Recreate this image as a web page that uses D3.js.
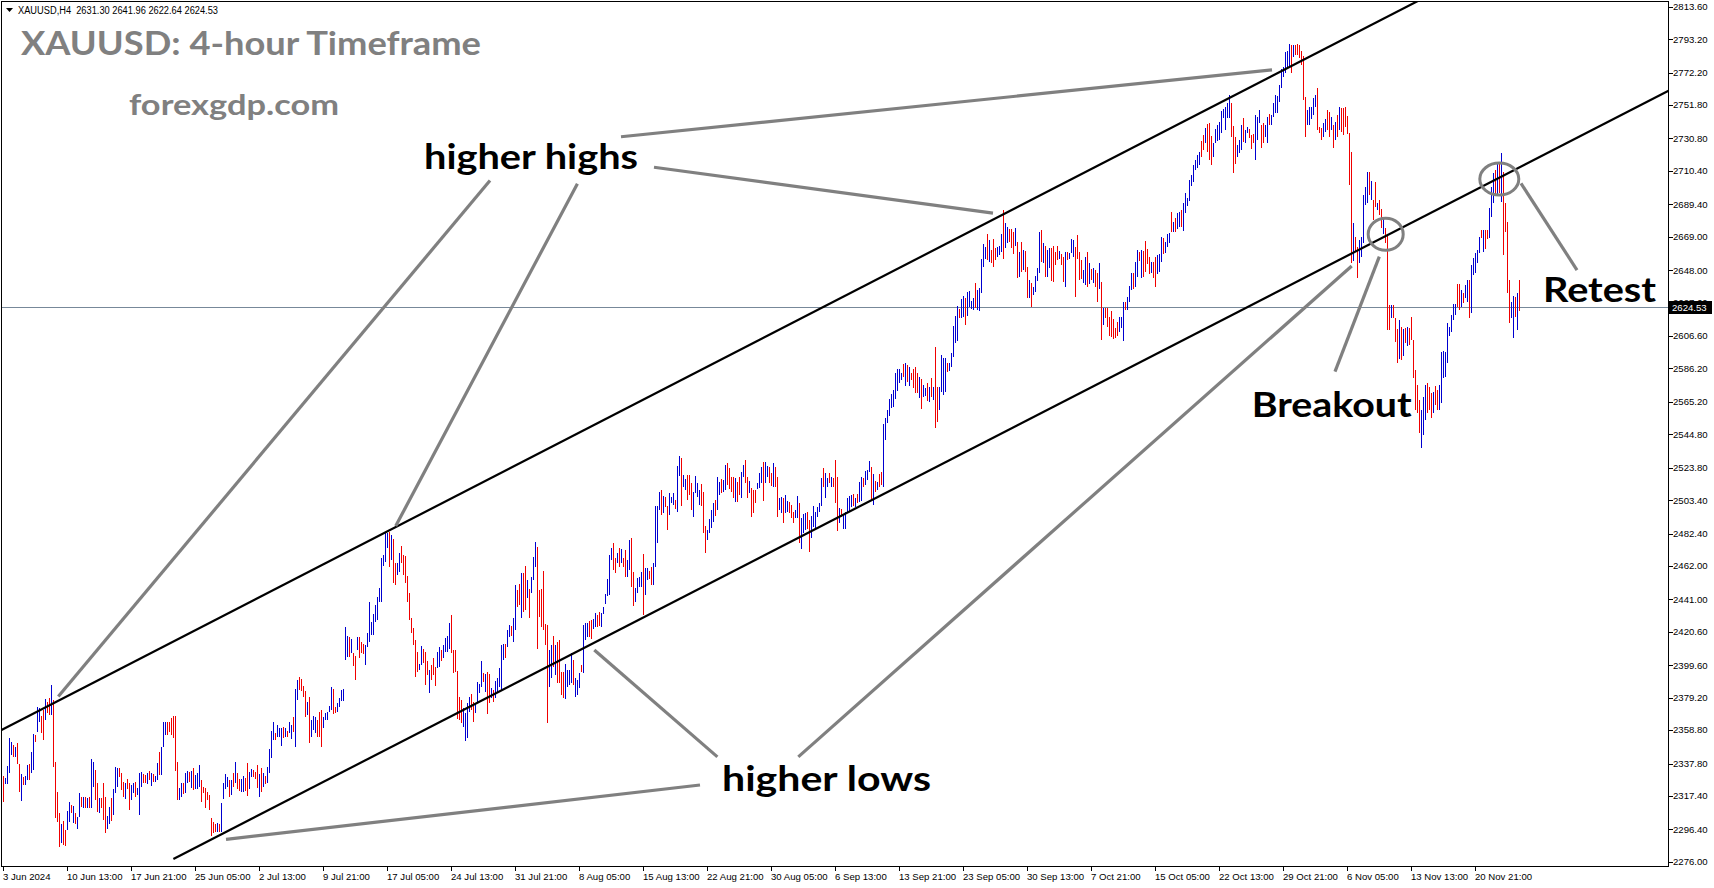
<!DOCTYPE html>
<html><head><meta charset="utf-8">
<script src="https://cdn.jsdelivr.net/npm/d3@7"></script>
<style>html,body{margin:0;padding:0;background:#fff;overflow:hidden}</style>
</head><body>
<svg id="chart" width="1714" height="888"></svg>
<script>
// ---------------- DATA ----------------
const symbolHeader = "XAUUSD,H4  2631.30 2641.96 2622.64 2624.53";
const titleText = "XAUUSD: 4-hour Timeframe";
const siteText = "forexgdp.com";
const lastPrice = 2624.53;

// bar direction: u = up (blue), d = down (red)
const dirs = [
 "duuuududdu","duuduuduud","dudduddddu","dduududuud","ududuuddud","dduuduuudd","dudduuduuu","ddududuudu","uudddddduu","duududuuud",
 "dddddddudu","uuudududdu","udduudddud","uduuuuduuu","duduuduudd","ddud",
 "uuuddduuuu","udduuuuuud","udduddduuu","uuuuuuuuud","udduuddddd","dddduudddu","ddduuduuuu","dddddduuuu","dduuuududd","uduuuuuduu",
 "duudduddud","uuuddddddu","ududddduuu","uduuuduuud","duudduuuuu","ud",
 "dududduudd","uuuuduuddu","uuududduuu","duuduudddu","uuuddduuuu","duuduudddd","udduuddudd","duuuduuddu","dduuduuddd","uuduuudduu",
 "uuuuduudud","dduduuuuud","uduuduuudu","dudduuuuuu","uuuudududd","ddu",
 "duudududdu","uuuduuuuud","uuduuuuduu","uuududdduu","uduudddudu","dudduduuuu","duduuddddu","dduduuuddd","duudududdu","dudddddddu",
 "uuduuuduud","uddddudduu","uduuududuu","duuuuuuuuu","dduddduuuu","uu",
 "uuuddduuud","uuddduuudd","uuduuuuuuu","uuududdddd","duuuuudddu","uddudududd","ddddudduuu","uududduddu","dddudddudu","dudddddduu",
 "udddudduuu","uuuuuuddud","uuduuuuudu","dduuududud","ddduudud"
].join("");

const highs = [
 2329.9,2328.5,2336.2,2353.6,2351.5,2349.4,2348.4,2350.9,2337.3,2331.2,
 2329.5,2329.9,2336.8,2337.5,2345.0,2356.3,2355.7,2373.5,2372.5,2367.6,
 2371.4,2378.1,2376.7,2379.2,2387.2,2377.7,2338.9,2320.1,2306.5,2299.7,
 2301.8,2296.0,2308.1,2313.6,2311.7,2311.1,2306.5,2304.4,2319.0,2316.9,
 2316.9,2316.5,2315.9,2316.9,2340.6,2338.9,2333.7,2325.3,2315.9,2315.9,
 2325.7,2316.9,2304.8,2310.2,2315.9,2321.5,2335.4,2334.7,2334.7,2332.0,
 2326.4,2325.7,2327.8,2325.7,2324.3,2325.7,2326.4,2322.2,2332.0,2332.7,
 2331.2,2330.6,2331.6,2333.3,2332.0,2331.2,2329.9,2337.9,2345.0,2348.4,
 2364.1,2364.1,2364.1,2364.1,2366.2,2367.6,2367.6,2338.9,2322.2,2325.7,
 2325.7,2331.6,2333.3,2332.7,2333.3,2334.7,2330.6,2331.6,2336.8,2327.4,
 2323.2,2322.2,2320.1,2318.0,2303.3,2301.2,2299.7,2300.2,2299.7,2312.7,
 2325.3,2331.2,2329.5,2327.4,2327.4,2331.6,2338.9,2332.0,2327.8,2327.8,
 2329.9,2328.9,2337.9,2332.7,2334.1,2333.7,2332.7,2336.8,2331.2,2334.7,
 2331.6,2329.9,2335.8,2346.7,2358.4,2364.1,2357.2,2362.0,2359.9,2359.9,
 2360.9,2359.9,2358.4,2364.1,2362.0,2367.2,2384.4,2390.3,2392.0,2390.7,
 2386.5,2383.6,2376.7,2379.4,
 2365.2,2367.7,2366.9,2365.2,2370.4,2371.5,2367.3,2369.4,2370.4,2374.0,
 2386.1,2384.5,2373.1,2375.7,2378.8,2384.0,2384.5,2423.9,2418.0,2417.6,
 2415.9,2407.5,2405.4,2417.6,2417.2,2414.4,2413.0,2412.3,2419.7,2439.6,
 2427.0,2431.8,2437.5,2442.7,2448.0,2466.8,2468.9,2482.6,2483.0,2483.6,
 2481.5,2478.8,2464.1,2463.7,2470.0,2474.6,2468.9,2468.3,2455.7,2444.8,
 2429.1,2423.2,2415.5,2408.1,2400.4,2411.7,2409.6,2407.7,2402.5,2396.6,
 2399.8,2403.9,2398.7,2408.1,2410.9,2409.2,2412.3,2416.5,2418.2,2426.0,
 2431.2,2409.2,2409.2,2396.2,2379.8,2377.7,2372.5,2369.8,2375.7,2379.8,
 2381.5,2376.7,2375.7,2389.3,2387.8,2402.5,2394.9,2394.1,2395.6,2394.1,
 2385.1,2384.0,2389.9,2391.4,2397.7,2412.3,2413.0,2413.0,2421.8,2424.9,
 2424.3,2429.1,2450.1,2446.9,2450.7,2457.8,2457.4,2462.0,2453.2,2447.3,
 2455.3,2467.9,2477.3,2473.7,2446.9,2447.3,2459.1,2425.3,2424.9,2409.2,
 2412.3,2418.0,2412.3,2414.4,2415.5,2395.6,2395.6,2400.4,2396.6,2396.6,
 2407.1,2402.9,2391.4,2390.3,2394.9,2399.8,2424.9,2426.0,2426.4,2427.6,
 2428.1,2428.5,2432.7,2431.2,2433.3,2432.7,2436.4,2444.4,2453.6,2468.9,
 2473.1,2476.3,
 2466.8,2470.4,2473.1,2472.5,2466.8,2472.1,2465.8,2478.4,2479.4,2458.4,
 2448.0,2454.2,2455.3,2458.4,2469.5,2460.5,2460.5,2459.1,2461.6,2463.7,
 2499.7,2499.7,2508.7,2509.8,2506.0,2505.6,2499.7,2507.7,2505.6,2507.7,
 2503.5,2524.9,2531.2,2530.1,2519.2,2516.5,2519.2,2519.2,2514.0,2508.7,
 2518.8,2514.0,2509.8,2513.6,2508.7,2487.2,2484.6,2491.3,2497.2,2501.4,
 2503.5,2518.2,2515.0,2516.5,2516.1,2525.5,2526.6,2523.4,2518.2,2518.2,
 2517.1,2515.0,2518.2,2521.3,2525.5,2528.7,2518.2,2515.7,2510.8,2509.8,
 2509.8,2514.4,2520.3,2524.5,2527.6,2527.6,2524.9,2524.5,2520.7,2526.6,
 2524.5,2518.2,2504.6,2505.6,2504.6,2506.6,2503.1,2502.5,2500.4,2496.2,
 2497.2,2506.0,2501.4,2492.0,2494.7,2495.1,2496.2,2490.9,2493.4,2499.7,
 2496.2,2499.3,2501.8,2517.1,2523.4,2520.3,2517.1,2520.7,2518.2,2517.1,
 2528.7,2518.2,2498.7,2497.8,2494.1,2496.2,2504.6,2506.2,2506.6,2507.3,
 2504.6,2507.3,2515.0,2518.2,2517.1,2521.9,2522.4,2528.2,2524.0,2519.9,
 2515.7,2515.0,2519.6,2521.3,2551.1,2554.9,2560.1,2566.8,2570.2,2572.7,
 2583.1,2585.7,2585.7,2583.6,2589.0,2589.4,2588.4,2587.3,2583.6,2585.7,
 2586.9,2583.6,2581.1,
 2579.3,2575.8,2573.7,2576.8,2574.7,2580.0,2574.7,2599.9,2574.7,2574.7,
 2594.6,2592.5,2592.5,2589.8,2589.4,2595.7,2612.9,2619.2,2625.4,2623.4,
 2629.6,2631.7,2630.3,2634.5,2634.9,2628.8,2630.3,2639.7,2635.5,2636.6,
 2654.8,2664.4,2662.8,2670.7,2667.0,2660.7,2667.4,2661.7,2662.8,2663.2,
 2670.7,2685.8,2677.4,2675.3,2673.7,2673.7,2672.2,2674.3,2665.9,2659.6,
 2665.9,2660.7,2660.2,2650.2,2641.8,2639.7,2637.6,2644.3,2649.1,2672.2,
 2673.2,2665.3,2663.2,2660.7,2661.7,2661.7,2663.2,2659.6,2663.2,2660.2,
 2658.1,2656.5,2659.6,2659.6,2659.0,2667.4,2667.0,2662.8,2670.1,2659.6,
 2654.4,2648.1,2656.5,2659.6,2652.3,2648.5,2649.1,2648.1,2646.0,2652.7,
 2640.8,2624.0,2624.0,2624.0,2618.7,2622.5,2617.1,2611.4,2615.6,2618.7,
 2618.7,2628.2,2628.2,2631.3,2638.0,2646.0,2646.0,2653.3,2660.7,2659.6,
 2660.7,2660.2,2666.5,2661.1,2656.5,2653.3,2653.3,2656.5,2657.5,2658.1,
 2669.0,2668.0,2665.9,2670.7,2671.1,2684.8,2678.5,2680.6,2684.1,2684.8,
 2685.8,2690.4,2696.3,2693.2,2704.7,2707.8,2714.1,2717.3,2720.4,2722.5,
 2729.4,2733.0,2737.2,2739.9,2740.3,2732.3,2727.7,2736.5,2739.3,2741.4,
 2748.3,2749.1,
 2750.4,2752.9,2758.1,2753.3,2738.6,2731.9,2726.7,2729.8,2739.3,2743.5,
 2736.1,2738.2,2736.5,2733.0,2733.6,2745.6,2744.5,2748.7,2739.3,2740.3,
 2739.3,2744.1,2746.2,2745.6,2752.9,2758.1,2757.5,2764.4,2774.3,2775.5,
 2785.4,2786.0,2790.2,2789.6,2789.6,2789.6,2790.2,2789.6,2786.0,2782.7,
 2757.1,2748.7,2750.4,2750.4,2756.0,2758.1,2762.3,2738.2,2737.2,2740.3,
 2742.8,2748.7,2747.6,2744.5,2739.3,2741.4,2745.6,2750.4,2749.7,2749.7,
 2750.4,2744.9,2734.0,2722.5,2677.9,2669.0,2662.8,2667.0,2668.6,2695.2,
 2700.5,2709.9,2709.9,2704.3,2692.1,2703.6,2690.0,2692.1,2686.2,2679.9,
 2674.3,2669.5,2626.1,2626.1,2626.1,2617.7,2610.8,2616.6,2612.5,2610.8,
 2611.4,2612.5,2611.4,2618.7,2604.1,2585.0,2575.8,2566.3,2560.1,2568.4,
 2575.8,2576.8,2574.7,2570.5,2571.6,2575.2,2572.6,2575.8,2596.7,2597.4,
 2596.7,2614.6,2612.5,2619.8,2626.7,2626.7,2639.3,2639.3,2635.5,2633.8,
 2638.7,2641.8,2641.8,2651.2,2655.4,2659.0,2660.7,2669.0,2673.2,2673.2,
 2673.2,2673.2,2686.9,2700.5,2708.9,2711.0,2716.2,2716.2,2721.4,2709.9,
 2690.0,2678.5,2641.8,2628.2,2631.7,2631.3,2633.4,2641.96
];

const lows = [
 2313.8,2324.9,2324.7,2332.0,2343.1,2342.1,2342.1,2337.5,2320.1,2314.4,
 2324.3,2324.3,2327.4,2327.4,2331.6,2333.7,2351.5,2357.8,2364.1,2357.2,
 2352.6,2365.1,2369.3,2368.3,2368.3,2335.8,2303.3,2301.2,2285.5,2288.0,
 2286.5,2285.9,2296.0,2301.2,2306.9,2300.6,2299.7,2296.4,2304.4,2310.2,
 2309.6,2309.6,2309.6,2309.6,2309.6,2323.2,2314.8,2307.5,2306.5,2309.6,
 2302.3,2294.3,2296.4,2299.7,2301.8,2305.4,2319.5,2323.2,2329.5,2321.1,
 2316.9,2315.3,2321.5,2308.6,2314.8,2319.0,2316.9,2318.0,2305.4,2323.2,
 2325.3,2325.3,2324.9,2327.4,2323.6,2326.4,2326.4,2327.4,2330.6,2330.6,
 2348.4,2355.7,2355.7,2357.8,2355.7,2353.6,2333.3,2314.8,2314.8,2316.5,
 2318.6,2319.0,2325.3,2326.4,2322.2,2321.1,2321.5,2321.5,2323.2,2313.8,
 2319.5,2309.6,2314.8,2308.6,2292.2,2293.9,2294.9,2294.9,2294.9,2294.9,
 2315.3,2321.5,2323.2,2316.9,2318.0,2323.2,2325.3,2321.5,2320.7,2320.1,
 2320.1,2320.7,2317.4,2321.5,2329.5,2329.5,2327.8,2322.6,2316.9,2320.1,
 2323.2,2324.9,2325.7,2331.6,2341.0,2352.6,2352.6,2354.7,2354.2,2348.8,
 2353.6,2354.7,2354.2,2356.8,2353.0,2357.8,2348.0,2377.7,2384.0,2383.6,
 2379.8,2367.2,2368.3,2351.0,
 2354.7,2358.9,2356.8,2354.7,2354.7,2348.4,2359.9,2365.2,2365.2,2370.4,
 2371.5,2368.9,2369.4,2370.4,2373.6,2377.3,2377.3,2402.9,2405.0,2405.0,
 2407.1,2399.1,2390.3,2409.2,2403.9,2407.1,2406.5,2399.8,2411.3,2414.4,
 2418.6,2418.6,2427.0,2428.1,2439.6,2439.6,2462.0,2464.7,2473.1,2461.6,
 2465.8,2451.1,2450.1,2456.4,2458.5,2463.7,2456.4,2451.1,2439.6,2428.1,
 2419.7,2412.3,2392.4,2395.6,2396.6,2399.8,2400.8,2387.2,2393.5,2382.4,
 2390.3,2393.5,2386.6,2397.7,2398.7,2402.5,2403.9,2408.1,2408.1,2409.6,
 2407.1,2394.9,2395.6,2365.6,2365.2,2363.1,2361.0,2352.2,2353.6,2370.4,
 2371.5,2364.2,2369.4,2375.7,2382.0,2386.1,2389.3,2383.0,2368.9,2375.7,
 2378.8,2376.7,2378.8,2383.0,2386.1,2384.0,2402.9,2403.9,2411.3,2417.6,
 2418.0,2414.4,2421.8,2436.4,2437.5,2429.1,2433.3,2434.3,2441.7,2429.1,
 2444.8,2453.2,2461.6,2409.6,2430.2,2423.9,2421.8,2412.3,2363.1,2386.1,
 2391.4,2398.7,2393.5,2388.7,2388.2,2380.9,2378.8,2378.2,2386.1,2387.2,
 2388.2,2387.2,2379.8,2380.9,2385.1,2395.6,2394.5,2415.5,2417.6,2417.6,
 2415.9,2422.2,2423.9,2423.9,2424.3,2423.5,2431.8,2438.1,2443.1,2443.8,
 2466.0,2459.5,
 2457.4,2463.7,2461.2,2463.7,2461.2,2455.3,2454.9,2459.5,2448.6,2436.9,
 2439.6,2444.8,2449.0,2449.0,2431.2,2443.8,2453.2,2453.6,2450.0,2450.0,
 2461.6,2476.7,2497.2,2494.1,2495.1,2499.3,2484.6,2494.1,2501.4,2500.4,
 2497.8,2496.2,2518.8,2499.7,2511.9,2509.8,2503.5,2506.6,2497.2,2493.0,
 2507.7,2505.6,2500.4,2499.7,2482.5,2470.0,2478.4,2483.0,2485.7,2489.9,
 2493.4,2497.2,2506.6,2508.1,2508.7,2509.8,2512.9,2510.2,2508.7,2504.6,
 2502.5,2502.5,2506.6,2504.6,2518.2,2514.0,2504.6,2507.7,2493.0,2495.5,
 2501.4,2510.2,2510.8,2514.0,2503.1,2514.0,2518.2,2514.4,2512.3,2511.9,
 2511.5,2493.0,2497.2,2495.1,2489.2,2495.1,2496.2,2495.5,2492.0,2488.8,
 2492.0,2492.0,2476.3,2472.5,2482.5,2484.6,2485.1,2471.0,2479.4,2486.7,
 2484.6,2493.0,2496.2,2499.7,2511.5,2504.6,2511.9,2514.0,2511.9,2511.9,
 2501.4,2484.2,2488.8,2493.0,2485.1,2485.1,2495.1,2496.2,2499.3,2499.7,
 2499.3,2501.8,2502.5,2503.1,2511.5,2512.9,2516.1,2521.3,2503.5,2500.4,
 2508.7,2509.8,2511.9,2512.9,2511.9,2541.2,2551.7,2556.3,2561.1,2562.2,
 2566.8,2572.3,2576.9,2579.0,2581.1,2575.2,2577.9,2575.2,2579.0,2573.7,
 2571.0,2570.6,2567.4,
 2560.5,2568.4,2568.9,2565.9,2565.3,2568.4,2566.3,2549.0,2552.5,2560.1,
 2571.6,2569.5,2571.6,2584.2,2584.8,2587.3,2593.6,2602.0,2603.7,2617.7,
 2617.7,2618.7,2613.5,2619.2,2624.6,2623.4,2622.9,2624.0,2622.9,2622.5,
 2633.4,2650.2,2654.8,2654.4,2653.3,2652.3,2649.8,2654.4,2656.5,2657.5,
 2659.6,2654.8,2661.7,2664.9,2665.9,2661.7,2658.1,2663.2,2642.9,2643.5,
 2647.0,2648.1,2647.0,2630.3,2630.3,2624.6,2632.4,2634.5,2641.4,2646.4,
 2653.3,2652.3,2643.9,2643.5,2649.1,2641.4,2640.8,2651.2,2654.4,2654.8,
 2651.2,2640.8,2637.6,2654.4,2654.8,2658.6,2656.5,2631.3,2654.8,2641.8,
 2642.2,2639.7,2638.7,2637.2,2639.3,2641.8,2639.7,2637.6,2628.2,2635.9,
 2604.1,2613.5,2617.7,2612.5,2606.6,2606.2,2604.5,2605.1,2606.6,2609.3,
 2611.4,2603.7,2622.9,2622.9,2628.2,2635.5,2635.9,2637.6,2643.9,2654.0,
 2642.9,2643.5,2647.0,2651.9,2645.6,2646.0,2642.9,2637.6,2645.6,2647.0,
 2653.3,2658.1,2658.6,2662.3,2664.9,2672.2,2672.2,2672.2,2673.7,2675.3,
 2675.3,2672.8,2683.7,2688.3,2691.7,2700.9,2703.6,2711.0,2712.0,2714.1,
 2719.4,2723.5,2728.2,2722.5,2717.3,2714.1,2718.9,2727.7,2729.4,2729.8,
 2734.0,2743.5,
 2736.1,2743.5,2743.5,2731.5,2708.9,2714.7,2719.4,2721.9,2723.5,2728.8,
 2727.7,2734.4,2730.9,2724.0,2727.7,2717.3,2729.8,2740.3,2724.6,2727.7,
 2731.9,2727.7,2739.3,2739.3,2744.5,2746.6,2746.6,2753.9,2762.3,2769.7,
 2771.8,2774.9,2776.4,2771.8,2782.2,2783.3,2783.3,2781.2,2777.0,2755.0,
 2731.5,2739.3,2739.3,2742.8,2745.6,2750.8,2736.1,2734.0,2729.8,2731.9,
 2735.1,2736.1,2731.5,2736.1,2724.6,2729.8,2731.9,2736.1,2735.1,2733.0,
 2738.2,2733.6,2701.5,2652.3,2653.9,2659.6,2642.9,2652.3,2656.5,2664.9,
 2689.0,2690.0,2695.2,2692.1,2679.5,2687.9,2685.8,2682.7,2674.3,2670.7,
 2664.9,2610.4,2610.4,2617.7,2617.7,2603.0,2589.4,2591.9,2591.5,2594.0,
 2602.0,2600.3,2600.9,2604.1,2580.0,2560.1,2558.0,2545.4,2535.9,2544.3,
 2553.8,2558.0,2560.1,2554.8,2558.0,2563.2,2560.1,2560.1,2564.2,2580.0,
 2581.0,2589.4,2606.6,2609.3,2616.6,2619.8,2624.6,2622.9,2625.0,2627.5,
 2630.3,2628.2,2617.7,2621.3,2645.0,2646.4,2652.3,2659.0,2668.0,2659.6,
 2661.1,2667.4,2668.0,2681.6,2690.0,2694.6,2695.2,2696.3,2691.1,2657.5,
 2672.2,2633.4,2615.0,2617.7,2605.1,2618.7,2610.4,2622.64
];

const priceTicks = [2813.60,2793.20,2772.20,2751.80,2730.80,2710.40,2689.40,2669.00,2648.00,2627.60,
 2606.60,2586.20,2565.20,2544.80,2523.80,2503.40,2482.40,2462.00,2441.00,2420.60,2399.60,2379.20,
 2358.80,2337.80,2317.40,2296.40,2276.00];

const timeLabels = ["3 Jun 2024","10 Jun 13:00","17 Jun 21:00","25 Jun 05:00","2 Jul 13:00","9 Jul 21:00",
 "17 Jul 05:00","24 Jul 13:00","31 Jul 21:00","8 Aug 05:00","15 Aug 13:00","22 Aug 21:00","30 Aug 05:00",
 "6 Sep 13:00","13 Sep 21:00","23 Sep 05:00","30 Sep 13:00","7 Oct 21:00","15 Oct 05:00","22 Oct 13:00",
 "29 Oct 21:00","6 Nov 05:00","13 Nov 13:00","20 Nov 21:00"];
const timeLabelBars = [0,32,64,96,128,160,192,224,256,288,320,352,384,416,448,480,512,544,576,608,640,672,704,736];

// channel lines: two anchor points each [bar, price], and extent in bars
const channelUpper = {a:[-0.15,2359.3], b:[648.5,2779.1], from:-2, to:760};
const channelLower = {a:[85.2,2277.8], b:[648.5,2641.8], from:85.2, to:835};

// pointer lines [bar, price] -> [bar, price]
const pointerLines = [
 [[309,2731.9],[634.5,2773.9]],
 [[325.5,2712.7],[495,2683.9]],
 [[243.5,2704.4],[27.65,2379.9]],
 [[287.2,2702.4],[196.35,2487.1]],
 [[348.5,2324.3],[111.5,2290.1]],
 [[357.2,2342.0],[295.65,2409.2]],
 [[397.65,2342.0],[674.35,2650.6]],
 [[666,2584.2],[688.15,2656.5]],
 [[759,2702.6],[787,2648.1]]
];
const markerCircles = [
 {bar:691.35, price:2670.6, rx:17.5, ry:16},
 {bar:748.15, price:2705.3, rx:19.5, ry:16}
];
const annotations = [
 {text:"higher highs", bar:210.5, price:2711.3, width:214},
 {text:"higher lows", bar:359.5, price:2320.7, width:209},
 {text:"Breakout", bar:624.35, price:2555.9, width:160},
 {text:"Retest", bar:770, price:2628.2, width:113}
];

// ---------------- DRAW ----------------
const svg = d3.select("#chart");
const PL = 1.5, PT = 1.5, PR = 1668.5, PB = 866.5;
const x = d3.scaleLinear().domain([0, 758]).range([3, 1519]);
const y = d3.scaleLinear().domain([2276, 2813.6]).range([861.8, 6.8]);
const BLUE = "#0000d0", RED = "#f00000", GRAY = "#808080";

svg.append("rect").attr("width",1714).attr("height",888).attr("fill","#fff");
svg.append("defs").append("clipPath").attr("id","plotClip")
  .append("rect").attr("x",PL).attr("y",PT).attr("width",PR-PL).attr("height",PB-PT);

const plot = svg.append("g").attr("clip-path","url(#plotClip)");

// current price line
plot.append("line").attr("x1",PL).attr("x2",PR).attr("y1",Math.round(y(lastPrice))+0.5).attr("y2",Math.round(y(lastPrice))+0.5)
  .attr("stroke","#778899").attr("stroke-width",1);

// bars (high-low lines)
const n = Math.min(highs.length, lows.length);
const bars = d3.range(n).map(i => ({i, h:highs[i], l:lows[i], up: dirs[i] === "u"}));
plot.append("g").attr("shape-rendering","crispEdges").selectAll("rect").data(bars).join("rect")
  .attr("x", d => Math.round(x(d.i)))
  .attr("y", d => Math.round(y(d.h)))
  .attr("width", 1)
  .attr("height", d => Math.max(1, Math.round(y(d.l)) - Math.round(y(d.h))))
  .attr("fill", d => d.up ? BLUE : RED);

// channel lines
function extend(c){
  const s = (c.b[1]-c.a[1])/(c.b[0]-c.a[0]);
  return [[c.from, c.a[1] + (c.from-c.a[0])*s],[c.to, c.a[1] + (c.to-c.a[0])*s]];
}
[channelUpper, channelLower].forEach(c => {
  const p = extend(c);
  plot.append("line").attr("x1",x(p[0][0])).attr("y1",y(p[0][1])).attr("x2",x(p[1][0])).attr("y2",y(p[1][1]))
    .attr("stroke","#000").attr("stroke-width",2.2);
});

// pointer lines
svg.append("g").selectAll("line").data(pointerLines).join("line")
  .attr("x1",d=>x(d[0][0])).attr("y1",d=>y(d[0][1])).attr("x2",d=>x(d[1][0])).attr("y2",d=>y(d[1][1]))
  .attr("stroke",GRAY).attr("stroke-width",3.2);

// circles
svg.append("g").selectAll("ellipse").data(markerCircles).join("ellipse")
  .attr("cx",d=>x(d.bar)).attr("cy",d=>y(d.price)).attr("rx",d=>d.rx).attr("ry",d=>d.ry)
  .attr("fill","none").attr("stroke",GRAY).attr("stroke-width",3);

// annotation texts
svg.append("g").selectAll("text").data(annotations).join("text")
  .attr("x",d=>x(d.bar)).attr("y",d=>y(d.price))
  .attr("textLength",d=>d.width).attr("lengthAdjust","spacingAndGlyphs")
  .attr("font-family","Lato, 'Open Sans', sans-serif").attr("font-weight",700).attr("font-size",35)
  .attr("fill","#000").text(d=>d.text);

// title texts
svg.append("text").attr("x",21).attr("y",55).attr("textLength",460).attr("lengthAdjust","spacingAndGlyphs")
  .attr("font-family","Lato, 'Open Sans', sans-serif").attr("font-weight",700).attr("font-size",32)
  .attr("fill",GRAY).text(titleText);
svg.append("text").attr("x",129).attr("y",115).attr("textLength",210).attr("lengthAdjust","spacingAndGlyphs")
  .attr("font-family","Lato, 'Open Sans', sans-serif").attr("font-weight",700).attr("font-size",28)
  .attr("fill",GRAY).text(siteText);

// frame
svg.append("rect").attr("x",PL).attr("y",PT).attr("width",PR-PL).attr("height",PB-PT)
  .attr("fill","none").attr("stroke","#000").attr("stroke-width",1).attr("shape-rendering","crispEdges");

// price axis
const yAx = svg.append("g").attr("shape-rendering","crispEdges");
yAx.selectAll("line").data(priceTicks).join("line")
  .attr("x1",PR).attr("x2",PR+4).attr("y1",d=>Math.round(y(d))+0.5).attr("y2",d=>Math.round(y(d))+0.5)
  .attr("stroke","#000");
svg.append("g").selectAll("text").data(priceTicks).join("text")
  .attr("x",PR+4.5).attr("y",d=>y(d)).attr("dy","0.35em")
  .attr("font-family","'Liberation Sans', Arial, sans-serif").attr("font-size",9.6).attr("fill","#000")
  .text(d=>d.toFixed(2));

// current price label
const ly = y(lastPrice);
svg.append("rect").attr("x",PR+0.5).attr("y",Math.round(ly)-6).attr("width",43).attr("height",13).attr("fill","#000");
svg.append("text").attr("x",PR+3.5).attr("y",ly).attr("dy","0.38em")
  .attr("font-family","'Liberation Sans', Arial, sans-serif").attr("font-size",9.6).attr("fill","#fff")
  .text(lastPrice.toFixed(2));

// time axis
const tAx = svg.append("g").attr("shape-rendering","crispEdges");
tAx.selectAll("line").data(timeLabelBars).join("line")
  .attr("x1",d=>Math.round(x(d))+0.5).attr("x2",d=>Math.round(x(d))+0.5).attr("y1",PB).attr("y2",PB+4)
  .attr("stroke","#000");
svg.append("g").selectAll("text").data(timeLabels).join("text")
  .attr("x",(d,i)=>x(timeLabelBars[i])).attr("y",880)
  .attr("font-family","'Liberation Sans', Arial, sans-serif").attr("font-size",9.6).attr("fill","#000")
  .text(d=>d);

// header
svg.append("path").attr("d","M6,8 L13,8 L9.5,12 Z").attr("fill","#000");
svg.append("text").attr("x",18).attr("y",14).attr("xml:space","preserve").style("white-space","pre")
  .attr("textLength",200).attr("lengthAdjust","spacingAndGlyphs")
  .attr("font-family","'Liberation Sans', Arial, sans-serif").attr("font-size",10).attr("fill","#000")
  .text(symbolHeader);
</script>
</body></html>
